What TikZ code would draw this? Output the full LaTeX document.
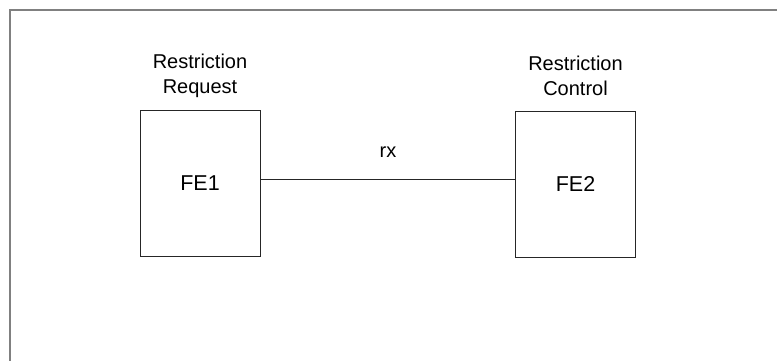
\documentclass[tikz,border=0pt]{standalone}
\usepackage{fontspec}
\setmainfont{Liberation Sans}
\begin{document}
\begin{tikzpicture}[x=1pt,y=-1pt,
  fe/.style={draw=black!85,line width=1pt,minimum width=120pt,minimum height=146pt,inner sep=0pt,font=\fontsize{21.5}{25}\selectfont},
  lbl/.style={align=center,inner sep=0pt,font=\fontsize{20}{25}\selectfont},
  frame/.style={draw=black!50,line width=2pt}]
\useasboundingbox (0,0) rectangle (777,360);
\fill[white] (0,0) rectangle (777,360);
\draw[frame] (10,365) -- (10,10) -- (782,10);
\node[fe] (fe1) at (200,183.5) {FE1};
\node[fe] (fe2) at (575.5,184) {FE2};
\node[lbl] (l1) at (200,76) {Restriction\\Request};
\node[lbl] (l2) at (575.5,76) {Restriction\\Control};
\draw[line width=1pt,black!85] (fe1.east |- 0,179) coordinate (a) -- (fe2.west |- 0,179) coordinate (b);
\node[lbl] (rx) at (388,152) {rx};
\end{tikzpicture}
\end{document}
